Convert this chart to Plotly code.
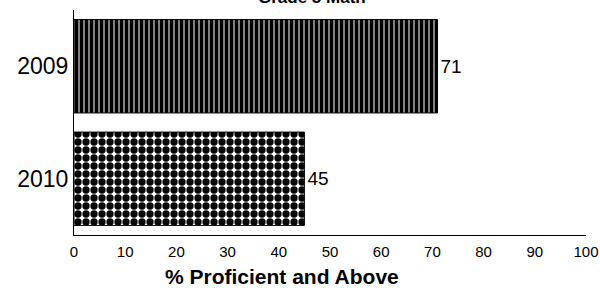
import plotly.graph_objects as go

years = ["2009", "2010"]
values = [71, 45]
value_labels = ["71", "45"]
x_ticks = [0, 10, 20, 30, 40, 50, 60, 70, 80, 90, 100]
title_text = "Grade 5 Math"
x_title = "% Proficient and Above"

fig = go.Figure()
fig.add_trace(go.Bar(
    y=years, x=values, orientation="h",
    text=value_labels, textposition="outside", cliponaxis=False,
    textfont=dict(family="Liberation Sans, Arial", size=19, color="black"),
    marker=dict(
        color="white",
        line=dict(color="black", width=1),
        pattern=dict(
            shape=["|", "."],
            fgcolor="#000000", bgcolor="#ffffff", fgopacity=1,
            size=[5, 8], solidity=[0.8, 0.65],
        ),
    ),
))

fig.update_layout(
    width=600, height=292,
    margin=dict(l=74, r=14, t=10, b=57, autoexpand=False),
    paper_bgcolor="white", plot_bgcolor="white",
    showlegend=False, bargap=0.17,
    font=dict(family="Liberation Sans, Arial", color="black"),
    xaxis=dict(
        range=[0, 100], tickvals=x_ticks, ticks="", showgrid=False,
        zeroline=False, showline=True, linecolor="black", linewidth=1,
        tickfont=dict(size=15), ticklen=0, ticklabelstandoff=3,
        automargin=False,
    ),
    yaxis=dict(
        autorange="reversed", showgrid=False, zeroline=False,
        showline=True, linecolor="black", linewidth=1, ticks="",
        tickfont=dict(size=23), automargin=False,
    ),
    annotations=[
        dict(text="<b>" + x_title + "</b>", xref="paper", yref="paper",
             x=(282 - 74) / 512, y=-(276 - 235) / 225, xanchor="center", yanchor="middle",
             showarrow=False, font=dict(size=21)),
        dict(text="<b>" + title_text + "</b>", xref="paper", yref="paper",
             x=(312 - 74) / 512, y=1.005, xanchor="center", yanchor="bottom",
             showarrow=False, font=dict(size=17)),
    ],
)

fig.write_html("out.html", config={"displayModeBar": False},
               post_script="document.body.style.margin='0';")
